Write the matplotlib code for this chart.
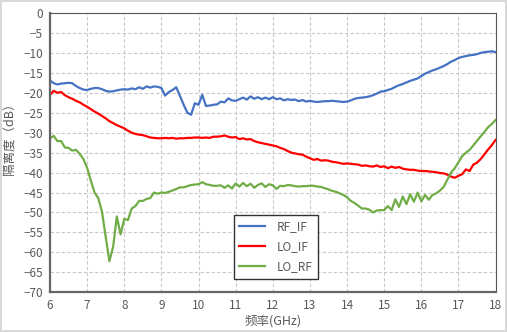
import numpy as np
import matplotlib
matplotlib.use("Agg")
import matplotlib.pyplot as plt

plt.rcParams['font.family'] = ['Noto Sans CJK JP', 'DejaVu Sans']

# 频率 6~18 GHz, 步进 0.1 GHz
freq = np.round(np.linspace(6, 18, 121), 1)

rf_if = [-16.9, -17.6, -17.9, -17.7, -17.6, -17.5, -17.6, -18.3, -18.8, -19.2,
         -19.3, -19.0, -18.8, -18.8, -19.1, -19.5, -19.7, -19.6, -19.4, -19.2,
         -19.1, -19.2, -18.9, -19.1, -18.6, -19.0, -18.4, -18.7, -18.4, -18.5,
         -18.8, -20.7, -19.8, -19.3, -18.6, -20.8, -23.0, -25.0, -25.5, -22.6,
         -23.0, -20.5, -23.3, -23.2, -23.0, -22.9, -22.2, -22.4, -21.4, -21.9,
         -22.0, -21.6, -21.2, -21.7, -20.9, -21.5, -21.1, -21.6, -21.2, -21.6,
         -21.1, -21.6, -21.4, -21.9, -21.6, -21.8, -21.7, -22.1, -21.8, -22.2,
         -22.0, -22.2, -22.3, -22.2, -22.1, -22.1, -22.0, -22.1, -22.2, -22.3,
         -22.2, -21.9, -21.5, -21.3, -21.2, -21.1, -20.9, -20.6, -20.2, -19.7,
         -19.6, -19.3, -19.0, -18.5, -18.1, -17.8, -17.4, -17.0, -16.7, -16.4,
         -15.8, -15.2, -14.8, -14.4, -14.1, -13.7, -13.3, -12.8, -12.2, -11.8,
         -11.3, -11.0, -10.8, -10.6, -10.5, -10.3, -10.0, -9.8, -9.7, -9.6,
         -9.8]

lo_if = [-20.5, -19.5, -20.0, -19.8, -20.6, -21.1, -21.5, -22.0, -22.4, -23.0,
         -23.5, -24.1, -24.7, -25.2, -25.8, -26.4, -27.1, -27.6, -28.1, -28.5,
         -28.9, -29.5, -30.0, -30.3, -30.5, -30.6, -30.9, -31.2, -31.3, -31.4,
         -31.4, -31.3, -31.4, -31.3, -31.5, -31.4, -31.4, -31.3, -31.3, -31.2,
         -31.2, -31.3, -31.2, -31.3, -31.0, -31.0, -30.9, -30.7, -31.0, -31.2,
         -31.1, -31.6, -31.4, -31.7, -31.6, -32.1, -32.4, -32.6, -32.8, -33.0,
         -33.2, -33.4, -33.8, -34.1, -34.6, -35.0, -35.2, -35.4, -35.5, -36.0,
         -36.4, -36.8, -36.6, -37.0, -36.9, -37.0, -37.3, -37.4, -37.6, -37.8,
         -37.7, -37.8, -37.9, -38.0, -38.3, -38.2, -38.4, -38.5, -38.2, -38.6,
         -38.4, -38.9, -38.5, -38.8, -38.6, -39.0, -39.2, -39.3, -39.3, -39.5,
         -39.6, -39.6, -39.7, -39.8, -39.9, -40.1, -40.2, -40.5, -41.0, -41.3,
         -40.8, -40.4, -39.2, -39.6, -38.0, -37.5, -36.6, -35.4, -34.2, -33.1,
         -31.8]

lo_rf = [-31.4, -30.8, -32.1, -32.1, -33.7, -33.8, -34.5, -34.3, -35.3, -36.6,
         -38.8, -42.0, -45.0, -46.4, -49.8, -56.1, -62.2, -58.6, -51.0, -55.5,
         -51.6, -51.9, -49.0, -48.4, -47.1, -47.1, -46.6, -46.4, -45.0, -45.3,
         -45.0, -45.1, -44.8, -44.5, -44.1, -43.7, -43.7, -43.4, -43.1, -43.0,
         -42.9, -42.4, -42.9, -43.1, -43.3, -43.3, -43.2, -43.8, -43.2, -44.0,
         -42.7, -43.5, -42.6, -43.4, -42.8, -43.8, -43.1, -42.7, -43.6, -42.9,
         -43.2, -44.1, -43.3, -43.4, -43.1, -43.2, -43.4, -43.5, -43.4, -43.4,
         -43.3, -43.3, -43.5, -43.6, -43.9, -44.2, -44.6, -44.8, -45.2, -45.6,
         -46.2, -47.1, -47.6, -48.3, -49.0, -49.0, -49.3, -50.0, -49.5, -49.4,
         -49.4, -48.4, -49.4, -46.7, -48.6, -46.0, -47.9, -45.4, -47.3, -45.0,
         -47.2, -45.6, -46.8, -45.6, -45.2, -44.5, -43.6, -41.8, -40.0, -38.9,
         -37.4, -35.9, -35.0, -34.3, -33.2, -32.0, -30.9, -29.8, -28.6, -27.8,
         -26.8]

txt = '#595959'

fig = plt.figure(figsize=(5.07, 3.32), dpi=100)
fig.patch.set_edgecolor('#d9d9d9')
fig.patch.set_linewidth(1.5)
ax = fig.add_axes([0.0986, 0.1196, 0.8789, 0.8412])

ax.plot(freq, rf_if, color='#4472c4', lw=1.6, label='RF_IF')
ax.plot(freq, lo_if, color='#ff0000', lw=1.6, label='LO_IF')
ax.plot(freq, lo_rf, color='#70ad47', lw=1.6, label='LO_RF')

ax.set_xlim(6, 18)
ax.set_ylim(-70, 0)
ax.set_xticks(np.arange(6, 19, 1))
ax.set_yticks(np.arange(-70, 1, 5))
ax.grid(True, ls=(0, (3, 2)), color='#c8c8c8', lw=0.8)
ax.tick_params(length=0, labelsize=8.5, colors=txt, pad=5)

for s in ['left', 'bottom']:
    ax.spines[s].set_color('#666666')
    ax.spines[s].set_linewidth(1.6)
for s in ['top', 'right']:
    ax.spines[s].set_color('#555555')
    ax.spines[s].set_linewidth(0.8)

ax.set_xlabel('频率(GHz)', fontsize=9, color=txt, labelpad=2)
ax.set_ylabel('隔离度（dB）', fontsize=9, color=txt)
ax.yaxis.set_label_coords(-0.075, 0.56)

leg = ax.legend(loc='upper left', bbox_to_anchor=(234 / 507, 1 - 215 / 332),
                bbox_transform=fig.transFigure, fontsize=8.5, fancybox=False,
                framealpha=1, edgecolor='#333333', handlelength=2.2,
                borderpad=0.45, labelspacing=0.6, handletextpad=1.0,
                borderaxespad=0)
leg.get_frame().set_linewidth(1.0)
for t in leg.get_texts():
    t.set_color(txt)

fig.savefig('out.png', dpi=100)
